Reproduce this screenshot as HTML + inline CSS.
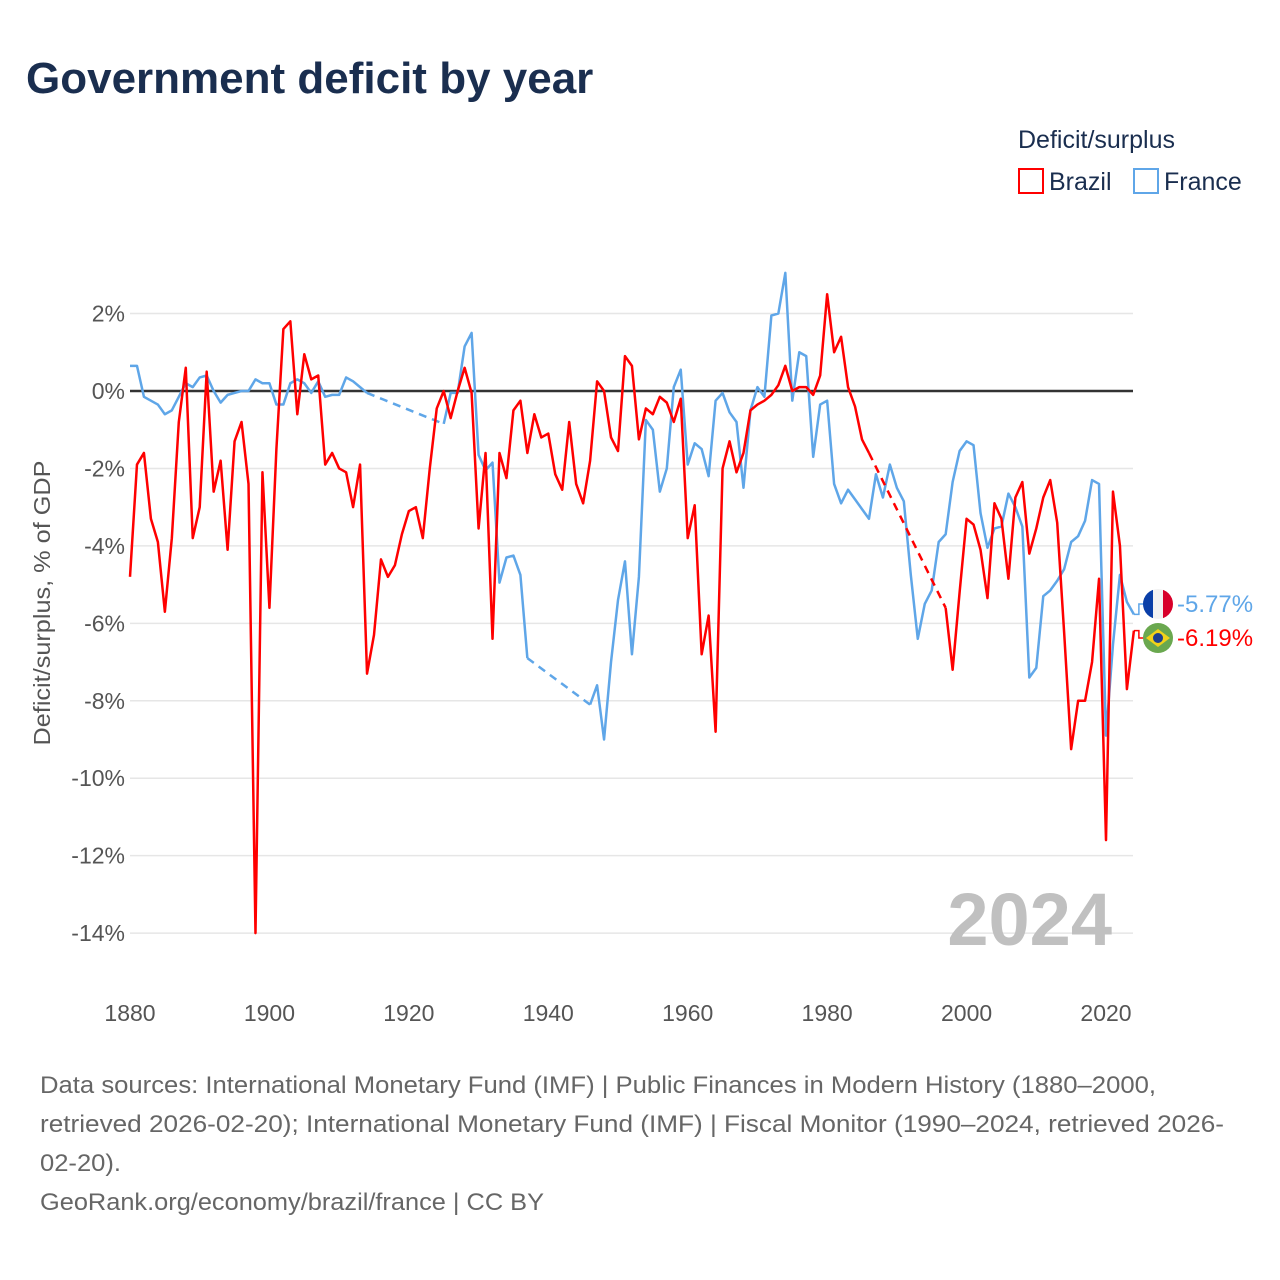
<!DOCTYPE html>
<html><head><meta charset="utf-8"><style>
body{margin:0;background:#fff;font-family:"Liberation Sans",sans-serif;}
#wrap{position:relative;width:1280px;height:1280px;overflow:hidden;}
</style></head><body>
<div id="wrap">
<svg id="chart" width="1280" height="1280" viewBox="0 0 1280 1280" xmlns="http://www.w3.org/2000/svg">
<text x="26" y="93" font-size="44" font-weight="bold" fill="#1a2e4f" font-family="Liberation Sans, sans-serif">Government deficit by year</text>
<text x="1018" y="148" font-size="25" fill="#1a2e4f">Deficit/surplus</text>
<g><rect x="1019" y="169" width="24" height="24" fill="none" stroke="#ff0000" stroke-width="2"/><text x="1049" y="190" font-size="25" fill="#1a2e4f">Brazil</text></g>
<g><rect x="1134" y="169" width="24" height="24" fill="none" stroke="#5fa6e8" stroke-width="2"/><text x="1164" y="190" font-size="25" fill="#1a2e4f">France</text></g>
<g id="grid"></g><g id="yticks"></g><g id="xticks"></g>
<text x="1112" y="945" font-size="74" font-weight="bold" fill="#c0c0c0" text-anchor="end">2024</text>
<g id="series"></g>
<text transform="translate(50,603) rotate(-90)" font-size="23" fill="#555" text-anchor="middle" textLength="285" lengthAdjust="spacingAndGlyphs">Deficit/surplus, % of GDP</text>
<g id="endlabels"></g>
<g font-size="24" fill="#666">
<text x="40" y="1093" textLength="1116" lengthAdjust="spacingAndGlyphs">Data sources: International Monetary Fund (IMF) | Public Finances in Modern History (1880–2000,</text>
<text x="40" y="1132" textLength="1184" lengthAdjust="spacingAndGlyphs">retrieved 2026-02-20); International Monetary Fund (IMF) | Fiscal Monitor (1990–2024, retrieved 2026-</text>
<text x="40" y="1171" textLength="81" lengthAdjust="spacingAndGlyphs">02-20).</text>
<text x="40" y="1210" textLength="504" lengthAdjust="spacingAndGlyphs">GeoRank.org/economy/brazil/france | CC BY</text>
</g>
</svg>
</div>
<script>
const startYear = 1880;
const yTicks = [2,0,-2,-4,-6,-8,-10,-12,-14];
const xTicks = [1880,1900,1920,1940,1960,1980,2000,2020];
const brazil = [-4.8,-1.9,-1.6,-3.3,-3.9,-5.7,-3.8,-0.8,0.6,-3.8,-3.0,0.5,-2.6,-1.8,-4.1,-1.3,-0.8,-2.4,-14.0,-2.1,
-5.6,-1.5,1.6,1.8,-0.6,0.95,0.3,0.4,-1.9,-1.6,-2.0,-2.1,-3.0,-1.9,-7.3,-6.3,-4.35,-4.8,-4.5,-3.7,
-3.1,-3.0,-3.8,-2.0,-0.45,0.0,-0.7,0.0,0.6,-0.05,-3.55,-1.6,-6.4,-1.6,-2.25,-0.5,-0.25,-1.6,-0.6,-1.2,
-1.1,-2.15,-2.55,-0.8,-2.4,-2.9,-1.8,0.25,0.0,-1.2,-1.55,0.9,0.65,-1.25,-0.45,-0.6,-0.15,-0.3,-0.8,-0.2,
-3.8,-2.95,-6.8,-5.8,-8.8,-2.0,-1.3,-2.1,-1.6,-0.5,-0.35,-0.25,-0.1,0.15,0.65,0.0,0.1,0.1,-0.1,0.4,
2.5,1.0,1.4,0.1,-0.4,-1.25,-1.6,null,null,null,null,null,null,null,null,null,null,-5.6,-7.2,-5.2,
-3.3,-3.45,-4.1,-5.35,-2.9,-3.3,-4.85,-2.75,-2.35,-4.2,-3.55,-2.75,-2.3,-3.4,-6.25,-9.25,-8.0,-8.0,-7.0,-4.85,
-11.6,-2.6,-4.0,-7.7,-6.19];
const france = [0.65,0.65,-0.15,-0.25,-0.35,-0.6,-0.5,-0.15,0.2,0.1,0.35,0.4,0.0,-0.3,-0.1,-0.05,0.0,0.0,0.3,0.2,
0.2,-0.35,-0.35,0.2,0.3,0.2,-0.05,0.25,-0.15,-0.1,-0.1,0.35,0.25,0.1,-0.05,null,null,null,null,null,
null,null,null,null,null,-0.85,-0.05,-0.05,1.15,1.5,-1.65,-2.05,-1.85,-4.95,-4.3,-4.25,-4.75,-6.9,null,null,
null,null,null,null,null,null,-8.1,-7.6,-9.0,-7.0,-5.4,-4.4,-6.8,-4.8,-0.75,-1.0,-2.6,-2.0,0.1,0.55,
-1.9,-1.35,-1.5,-2.2,-0.25,-0.05,-0.55,-0.8,-2.5,-0.5,0.1,-0.15,1.95,2.0,3.05,-0.25,1.0,0.9,-1.7,-0.35,
-0.25,-2.4,-2.9,-2.55,-2.8,-3.05,-3.3,-2.15,-2.75,-1.9,-2.5,-2.85,-4.75,-6.4,-5.5,-5.15,-3.9,-3.7,-2.35,-1.55,
-1.3,-1.4,-3.15,-4.05,-3.55,-3.5,-2.65,-3.0,-3.5,-7.4,-7.15,-5.3,-5.15,-4.9,-4.6,-3.9,-3.75,-3.35,-2.3,-2.4,
-8.9,-6.55,-4.75,-5.45,-5.77];
const X0=130, X1=1106, Y0=391, PXPCT=38.72;
function xScale(yr){return X0+(yr-1880)*(X1-X0)/140;}
function yScale(v){return Y0-v*PXPCT;}
const NS="http://www.w3.org/2000/svg";
function mk(tag,attrs,parent){const e=document.createElementNS(NS,tag);for(const k in attrs)e.setAttribute(k,attrs[k]);parent.appendChild(e);return e;}
const grid=document.getElementById('grid'), yt=document.getElementById('yticks'), xt=document.getElementById('xticks');
yTicks.forEach(v=>{
  const l=mk('line',{x1:130,x2:1133,y1:yScale(v),y2:yScale(v),stroke:v===0?'#333':'#e6e6e6','stroke-width':v===0?2.5:1.5},grid);
  
  
  const t=mk('text',{x:125,y:yScale(v)+8,'font-size':23,fill:'#555','text-anchor':'end'},yt);
  t.textContent=v+'%';
  
  
});
xTicks.forEach(yr=>{
  const t=mk('text',{x:xScale(yr),y:1021,'font-size':23,fill:'#555','text-anchor':'middle'},xt);
  t.textContent=yr;
  
  
});
const ser=document.getElementById('series');
function draw(arr,color,name){
  let d='', dash='', last=null, pen=false;
  arr.forEach((v,i)=>{
    if(v===null){pen=false;return;}
    const x=xScale(startYear+i), y=yScale(v);
    if(!pen){
      if(last && i-last.i>1) dash+='M'+last.x+','+last.y+'L'+x+','+y;
      d+='M'+x+','+y;
    } else d+='L'+x+','+y;
    pen=true; last={x,y,i};
  });
  const dl=mk('path',{d:dash,fill:'none',stroke:color,'stroke-width':2.5,'stroke-dasharray':'8,6'},ser);
  
  
  const p=mk('path',{d:d,fill:'none',stroke:color,'stroke-width':2.5,'stroke-linejoin':'round'},ser);
  
  
}
draw(france,'#5fa6e8','france');
draw(brazil,'#ff0000','brazil');
const el=document.getElementById('endlabels');
const lastX=xScale(2024);
const fy=604, by=638;
let c=mk('path',{d:`M${lastX},${yScale(france[france.length-1])}L${lastX+5},${yScale(france[france.length-1])}L${lastX+5},${fy}L${lastX+10},${fy}`,fill:'none',stroke:'#5fa6e8','stroke-width':1.5},el);


c=mk('path',{d:`M${lastX},${yScale(brazil[brazil.length-1])}L${lastX+5},${yScale(brazil[brazil.length-1])}L${lastX+5},${by}L${lastX+10},${by}`,fill:'none',stroke:'#ff0000','stroke-width':1.5},el);


const fg=mk('g',{},el);


const cp=mk('clipPath',{id:'cf'},fg);
mk('circle',{cx:1158,cy:fy,r:15},cp);
const fgi=mk('g',{'clip-path':'url(#cf)'},fg);
mk('rect',{x:1143,y:fy-15,width:10,height:30,fill:'#0a3fa8'},fgi);
mk('rect',{x:1153,y:fy-15,width:10,height:30,fill:'#f2f2f2'},fgi);
mk('rect',{x:1163,y:fy-15,width:10,height:30,fill:'#d8002a'},fgi);
const bg=mk('g',{},el);


mk('circle',{cx:1158,cy:by,r:15,fill:'#6aa84f'},bg);
mk('polygon',{points:`1146,${by} 1158,${by-9} 1170,${by} 1158,${by+9}`,fill:'#f1d21a'},bg);
mk('circle',{cx:1158,cy:by,r:5,fill:'#1c3f8f'},bg);
let t=mk('text',{x:1177,y:fy+8,'font-size':24,fill:'#5fa6e8'},el);
t.textContent='-5.77%';


t=mk('text',{x:1177,y:by+8,'font-size':24,fill:'#ff0000'},el);
t.textContent='-6.19%';


</script>
</body></html>
